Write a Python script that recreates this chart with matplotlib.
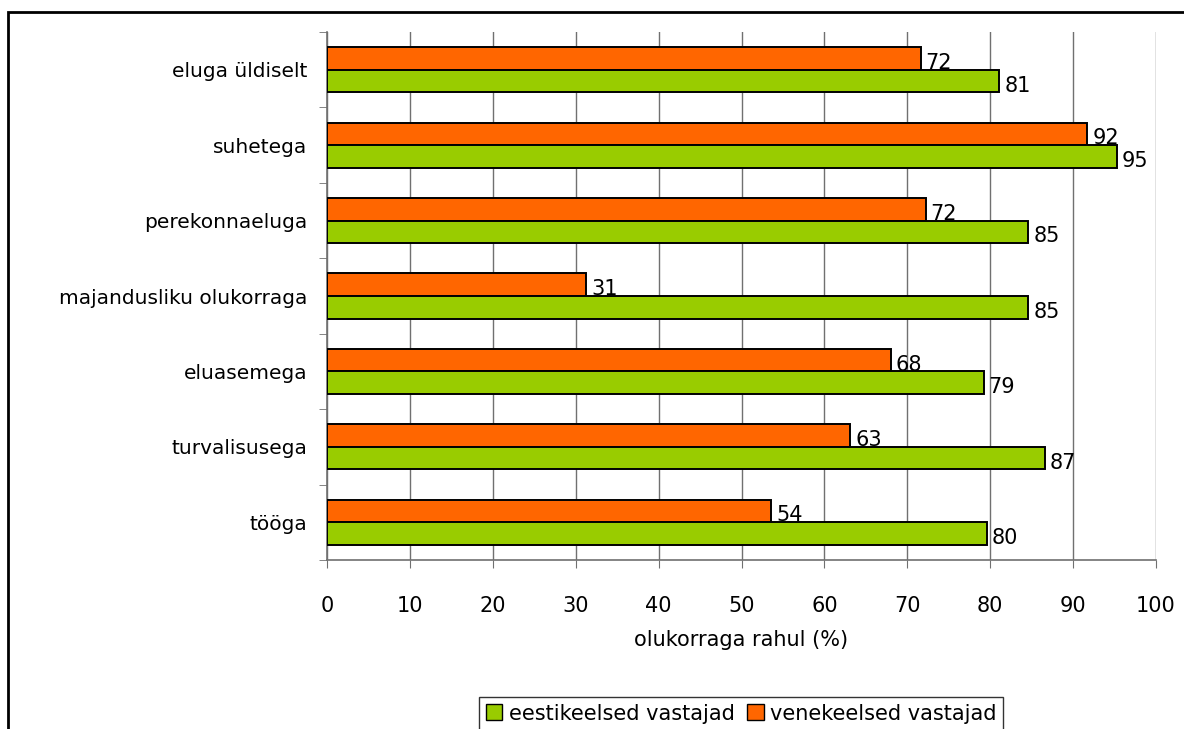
import numpy as np
import matplotlib
matplotlib.use("Agg")
import matplotlib.pyplot as plt
from matplotlib.patches import Patch, Rectangle

# andmed (ülalt alla)
categories = ["eluga üldiselt", "suhetega", "perekonnaeluga",
              "majandusliku olukorraga", "eluasemega", "turvalisusega", "tööga"]
eesti = [81.1, 95.3, 84.6, 84.6, 79.2, 86.6, 79.6]
vene = [71.6, 91.7, 72.2, 31.3, 68.0, 63.1, 53.6]
eesti_labels = ["81", "95", "85", "85", "79", "87", "80"]
vene_labels = ["72", "92", "72", "31", "68", "63", "54"]
xticks = list(range(0, 101, 10))

green = "#99CC00"
orange = "#FF6600"

fig = plt.figure(figsize=(11.84, 7.29), dpi=100)
W, H = 1184, 729
ax = fig.add_axes([327 / W, 1 - 560 / H, (1156 - 327) / W, (560 - 32) / H])

y = np.arange(len(categories))
h = 0.3
ax.barh(y - h / 2, vene, height=h, color=orange, edgecolor="black", linewidth=1.4, zorder=3)
ax.barh(y + h / 2, eesti, height=h, color=green, edgecolor="black", linewidth=1.4, zorder=3)

for i in range(len(categories)):
    ax.text(vene[i] + 0.6, y[i] - h / 2 + 0.06, vene_labels[i], va="center", ha="left", fontsize=15)
    ax.text(eesti[i] + 0.6, y[i] + h / 2 + 0.06, eesti_labels[i], va="center", ha="left", fontsize=15)

ax.set_xlim(0, 100)
ax.set_ylim(len(categories) - 0.5, -0.5)
ax.set_xticks(xticks)
ax.set_xticklabels([str(t) for t in xticks], fontsize=15)
ax.set_yticks(y)
ax.set_yticklabels(categories, fontsize=14.5)
ax.set_yticks(np.arange(-0.5, len(categories), 1), minor=True)
ax.tick_params(axis="y", which="major", length=0, pad=14)
ax.tick_params(axis="y", which="minor", length=6, color="#707070", direction="out")
ax.tick_params(axis="x", length=6, color="#707070", direction="out", pad=20)

ax.grid(axis="x", color="#707070", linewidth=1, zorder=0)
for s in ["top", "right"]:
    ax.spines[s].set_visible(False)
for s in ["left", "bottom"]:
    ax.spines[s].set_color("#707070")
    ax.spines[s].set_linewidth(1.2)

ax.set_xlabel("olukorraga rahul (%)", fontsize=15, labelpad=10)

handles = [Patch(facecolor=green, edgecolor="black"), Patch(facecolor=orange, edgecolor="black")]
fig.legend(handles, ["eestikeelsed vastajad", "venekeelsed vastajad"],
           loc="upper center", bbox_to_anchor=(741 / W, 1 - 687 / H), ncol=2,
           prop={"size": 15}, frameon=True, fancybox=False,
           edgecolor="black", handlelength=0.8, handleheight=0.8, handletextpad=0.3,
           columnspacing=0.6, borderpad=0.3)

# raam ümber joonise
fig.add_artist(Rectangle((8 / W, -0.1), 1.2, 1 - 12 / H + 0.1, transform=fig.transFigure,
                         fill=False, edgecolor="black", linewidth=2))

fig.savefig("out.png", dpi=100)
